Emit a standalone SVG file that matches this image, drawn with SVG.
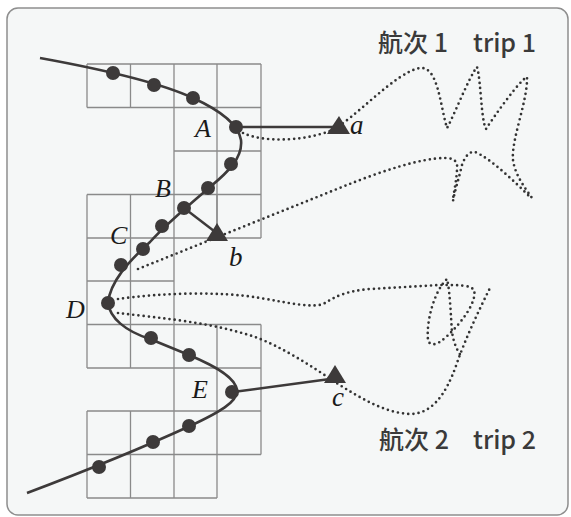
<svg xmlns="http://www.w3.org/2000/svg" width="571" height="517" viewBox="0 0 571 517">
<style>
.bg{fill:#f5f7f7;stroke:#8e8e8e;stroke-width:1.5}
.grid{fill:none;stroke:#8a8a8a;stroke-width:1.3}
.curve{fill:none;stroke:#3d3a3a;stroke-width:2.6;stroke-linejoin:round}
.dot{fill:#3d3a3a}
.tri{fill:#3d3a3a}
.link{fill:none;stroke:#3d3a3a;stroke-width:2.4}
.trip{fill:none;stroke:#333;stroke-width:2.7;stroke-dasharray:0 5.2;stroke-linecap:round}
.lbl{font-family:"Liberation Serif","DejaVu Serif",serif;font-style:italic;fill:#1a1a1a}
.title{font-family:"Noto Sans CJK SC","Noto Sans",sans-serif;font-size:25px;fill:#3a3a3a;font-weight:500}
</style>
<rect class="bg" x="7" y="8" width="561" height="507" rx="11"/>
<g id="grid" class="grid">
<path d="M87,64H261M87,107.5H261M174,151H261M87,194.5H261M87,238H261M87,281H174M87,324.5H261M87,368H261M87,411H261M87,454.5H261M87,498H217"/>
<path d="M87,64V107.5M130.5,64V107.5M174,64V194.5M217,64V238M261,64V238"/>
<path d="M87,194.5V368M130.5,194.5V368M174,194.5V368M217,194.5V238M217,324.5V368M261,324.5V454.5"/>
<path d="M174,368V498M217,368V498M87,411V498M130.5,411V498"/>
</g>
<g id="connectors">
<path class="curve" d="M40,58 Q150,78 193,98 C215,108 238,122 241,140 C243,158 228,172 210,187 C190,204 165,225 150,242 C128,262 110,282 108,303 C110,318 125,331 150,339 L189,355 C215,366 237,378 237,391 C237,402 220,412 190,426 Q120,458 27,493"/>
<path class="link" d="M236,127H334"/>
<path class="link" d="M184,208L214,231"/>
<path class="link" d="M233,392L330,379"/>
<path class="trip" d="M243,133 C262,142 300,142 330,131 C352,122 395,72 420,68 C438,66 440,105 447,128 C452,120 470,75 477,67 C481,80 481,120 486,129 C495,115 520,80 527,77 C528,100 511,140 513,160 C515,175 525,188 532,198"/>
<path class="trip" d="M138,269 L347,185 C380,172 420,158 445,158 C455,158 458,162 457,170 C456,185 453,195 453,201 C455,190 459,178 462,165 C465,156 470,151 475,152 C490,158 515,182 530,197"/>
<path class="trip" d="M118,299 C160,293 220,291 260,298 C290,303 315,309 325,303 C335,297 345,291 370,289 L440,285 C460,285 470,285 474,290 C477,300 465,320 445,338 C437,345 430,347 428,340 C426,320 435,290 447,279 C450,290 451,320 452,332 C454,345 458,352 462,357"/>
<path class="trip" d="M118,313 C160,318 210,322 255,337 C280,346 310,365 335,382 C360,398 385,413 410,414 C430,414 445,398 457,363 C465,340 478,312 490,288"/>
</g>
<g id="samples" class="dot">
<circle cx="113" cy="73" r="7"/><circle cx="154" cy="85" r="7"/><circle cx="193" cy="98" r="7"/>
<circle cx="231" cy="164" r="7"/><circle cx="208" cy="188" r="7"/><circle cx="162" cy="226" r="7"/><circle cx="143" cy="249" r="7"/><circle cx="121" cy="265" r="7"/>
<circle cx="151" cy="338" r="7"/><circle cx="189" cy="355" r="7"/>
<circle cx="189" cy="426" r="7"/><circle cx="153" cy="442" r="7"/><circle cx="99" cy="467" r="7"/>
</g>
<g id="A"><circle class="dot" cx="236" cy="127" r="7"/><text class="lbl" x="195" y="137" font-size="26">A</text></g>
<g id="B"><circle class="dot" cx="184" cy="208" r="7"/><text class="lbl" x="155" y="197" font-size="26">B</text></g>
<g id="C"><text class="lbl" x="110" y="244" font-size="26">C</text></g>
<g id="D"><circle class="dot" cx="108" cy="303" r="7"/><text class="lbl" x="66" y="318" font-size="26">D</text></g>
<g id="E"><circle class="dot" cx="232" cy="392" r="7"/><text class="lbl" x="192" y="398" font-size="26">E</text></g>
<g id="a"><path class="tri" d="M339,116L350,134H327Z"/><text class="lbl" x="350" y="134" font-size="27">a</text></g>
<g id="b"><path class="tri" d="M217,223L228,241H206Z"/><text class="lbl" x="229" y="266" font-size="27">b</text></g>
<g id="c"><path class="tri" d="M335,365L346,383H324Z"/><text class="lbl" x="332" y="406" font-size="27">c</text></g>
<g id="trip1"><text class="title" x="378" y="52">航次 1<tspan x="473">trip 1</tspan></text></g>
<g id="trip2"><text class="title" x="379" y="449">航次 2<tspan x="473">trip 2</tspan></text></g>
</svg>
